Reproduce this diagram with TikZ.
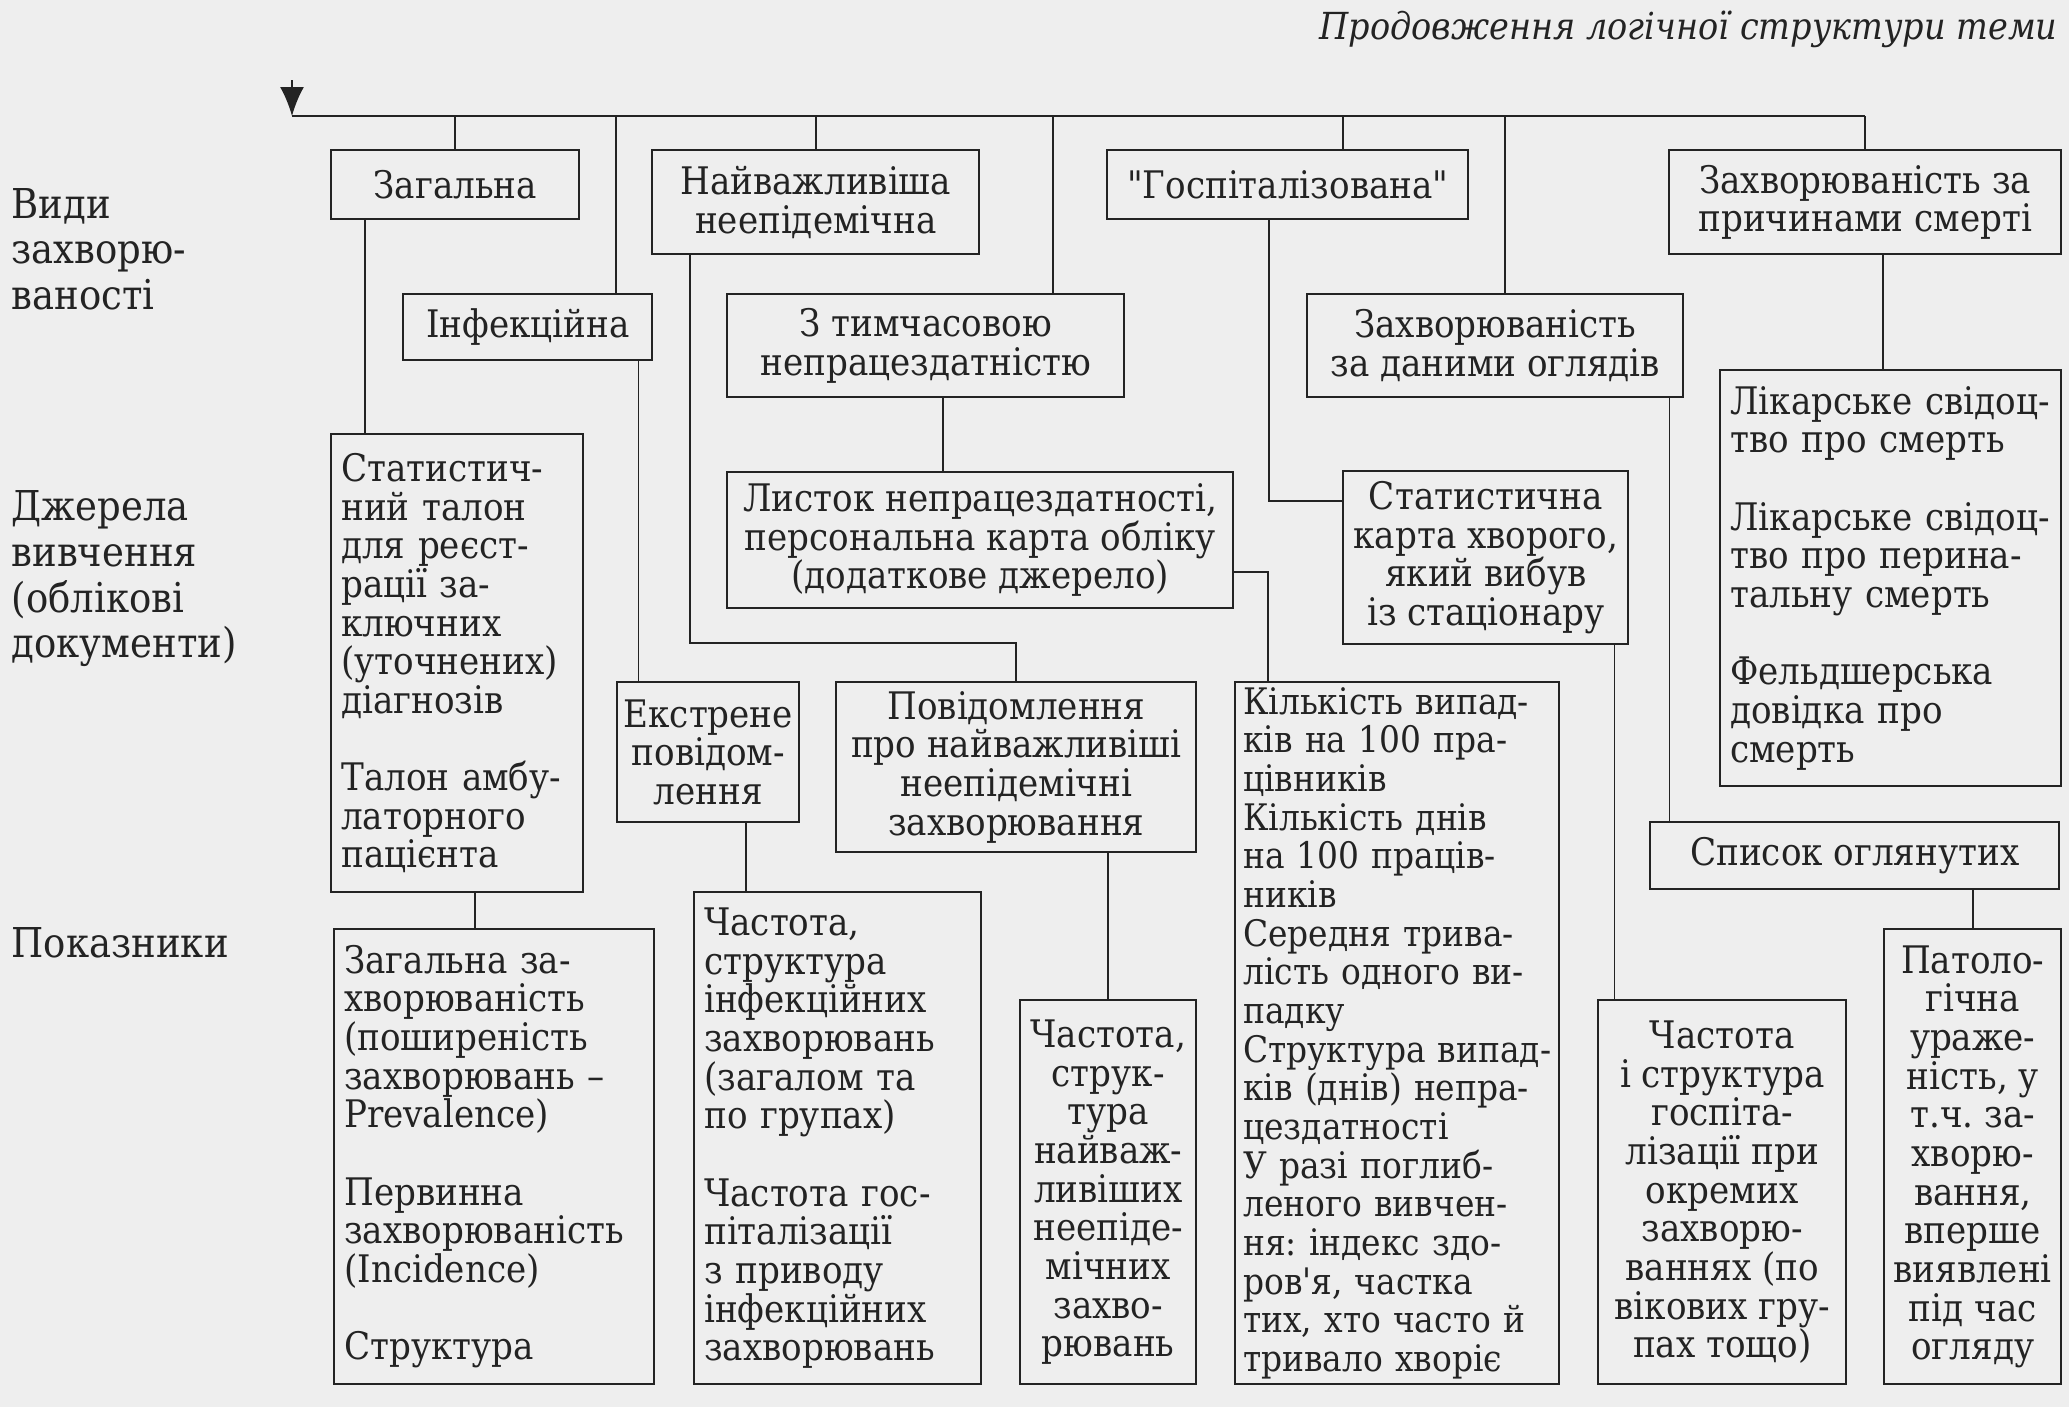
\documentclass[tikz,border=0pt]{standalone}
\usepackage{fontspec}
\setmainfont{DejaVu Serif Condensed}[Ligatures=TeXOff]
\frenchspacing
\exhyphenpenalty=10000
\hfuzz=20pt
\usepackage{tikz}
\usetikzlibrary{arrows.meta,calc}
\definecolor{scangray}{RGB}{238,238,238}
\definecolor{inkgray}{RGB}{35,35,35}

\tikzset{
  box/.style={draw=inkgray, line width=0.7pt, anchor=north west, inner sep=0pt,
    align=center, text=inkgray, font=\fontsize{10.8}{11}\selectfont},
  lbox/.style={box, align=left, inner xsep=1.0mm},
  side/.style={anchor=west, inner sep=0pt, align=left, text=inkgray,
    font=\fontsize{11.7}{13}\selectfont},
  link/.style={draw=inkgray, line width=0.5pt},
}

\begin{document}
\begin{tikzpicture}[x=1mm, y=-1mm]
  \fill[scangray] (0,0) rectangle (206.9,140.66);
  \useasboundingbox (0,0) rectangle (206.9,140.66);

  \node[anchor=east, inner sep=0pt, text=inkgray, font=\fontsize{10.6}{12}\selectfont\itshape]
    (title) at (205.8,2.9) {Продовження логічної структури теми};

  \node[side] (kinds) at (1.1,24.9) {Види\\захворю-\\ваності};
  \node[side] (sources) at (1.1,57.9) {Джерела\\вивчення\\(облікові\\документи)};
  \node[side] (indic) at (1.1,94.3) {Показники};

  % види захворюваності
  \node[box, minimum width=24.8mm, minimum height=6.9mm] (zag) at (33.0,14.9) {Загальна};
  \node[box, minimum width=24.9mm, minimum height=6.6mm] (inf) at (40.2,29.3) {Інфекційна};
  \node[box, minimum width=32.7mm, minimum height=10.4mm] (nay) at (65.1,14.9) {Найважливіша\\неепідемічна};
  \node[box, minimum width=39.7mm, minimum height=10.3mm] (tym) at (72.6,29.3) {З тимчасовою\\непрацездатністю};
  \node[box, minimum width=36.1mm, minimum height=6.9mm] (hosp) at (110.6,14.9) {"Госпіталізована"};
  \node[box, minimum width=37.6mm, minimum height=10.3mm] (exam) at (130.6,29.3) {Захворюваність\\за даними оглядів};
  \node[box, minimum width=39.2mm, minimum height=10.4mm] (death) at (166.8,14.9) {Захворюваність за\\причинами смерті};

  % джерела
  \node[lbox, text width=23.2mm, minimum height=45.8mm] (talon) at (33.0,43.3)
    {Статистич-\\ний талон\\для реєст-\\рації за-\\ключних\\(уточнених)\\діагнозів\\[\baselineskip]Талон амбу-\\латорного\\пацієнта};
  \node[box, minimum width=50.6mm, minimum height=13.6mm] (list) at (72.6,47.1)
    {Листок непрацездатності,\\персональна карта обліку\\(додаткове джерело)};
  \node[box, minimum width=28.5mm, minimum height=17.3mm] (card) at (134.2,47.0)
    {Статистична\\карта хворого,\\який вибув\\із стаціонару};
  \node[lbox, text width=32.1mm, minimum height=41.6mm] (cert) at (171.9,36.9)
    {Лікарське свідоц-\\тво про смерть\\[\baselineskip]Лікарське свідоц-\\тво про перина-\\тальну смерть\\[\baselineskip]Фельдшерська\\довідка про\\смерть};
  \node[box, minimum width=18.2mm, minimum height=14.0mm] (urg) at (61.6,68.1)
    {Екстрене\\повідом-\\лення};
  \node[box, minimum width=36.0mm, minimum height=17.0mm] (msg) at (83.5,68.1)
    {Повідомлення\\про найважливіші\\неепідемічні\\захворювання};
  \node[box, minimum width=40.9mm, minimum height=6.7mm] (exlist) at (164.9,82.1) {Список оглянутих};

  % показники
  \node[lbox, inner xsep=0.8mm, text width=30.8mm, minimum height=70.2mm,
    font=\fontsize{10.4}{11}\selectfont] (count) at (123.4,68.1)
    {Кількість~випад-\\ків~на~100~пра-\\цівників\\Кількість днів\\на 100 праців-\\ників\\Середня трива-\\лість~одного~ви-\\падку\\Структура~випад-\\ків~(днів)~непра-\\цездатності\\У разі поглиб-\\леного вивчен-\\ня:~індекс~здо-\\ров'я, частка\\тих,~хто~часто~й\\тривало~хворіє};
  \node[lbox, text width=26.7mm, minimum height=49.2mm] (freqi) at (69.3,89.1)
    {Частота,\\структура\\інфекційних\\захворювань\\(загалом та\\по групах)\\[\baselineskip]Частота гос-\\піталізації\\з приводу\\інфекційних\\захворювань};
  \node[lbox, text width=30.0mm, minimum height=45.5mm] (prev) at (33.3,92.8)
    {Загальна за-\\хворюваність\\(поширеність\\захворювань –\\Prevalence)\\[\baselineskip]Первинна\\захворюваність\\(Incidence)\\[\baselineskip]Структура};
  \node[box, minimum width=17.6mm, minimum height=38.4mm] (freqn) at (101.9,99.9)
    {Частота,\\струк-\\тура\\найваж-\\ливіших\\неепіде-\\мічних\\захво-\\рювань};
  \node[box, minimum width=24.8mm, minimum height=38.4mm] (freqh) at (159.7,99.9)
    {Частота\\і структура\\госпіта-\\лізації при\\окремих\\захворю-\\ваннях (по\\вікових гру-\\пах тощо)};
  \node[box, minimum width=17.7mm, minimum height=45.5mm] (patho) at (188.3,92.8)
    {Патоло-\\гічна\\ураже-\\ність, у\\т.ч. за-\\хворю-\\вання,\\вперше\\виявлені\\під час\\огляду};

  % верхня шина
  \coordinate (arrtop) at (29.2,8.0);
  \coordinate (busL) at (29.2,11.6);
  \coordinate (busR) at (death.north |- busL);
  \draw[link, -{Latex[length=2.9mm,width=2.4mm]}] (arrtop) -- (busL);
  \draw[link] (busL) -- (busR);
  \draw[link] (zag.north |- busL) -- (zag.north);
  \draw[link] ([xshift=8.8mm]inf.north |- busL) -- ([xshift=8.8mm]inf.north);
  \draw[link] (nay.north |- busL) -- (nay.north);
  \draw[link] ([xshift=12.7mm]tym.north |- busL) -- ([xshift=12.7mm]tym.north);
  \draw[link] ([xshift=5.5mm]hosp.north |- busL) -- ([xshift=5.5mm]hosp.north);
  \draw[link] ([xshift=1mm]exam.north |- busL) -- ([xshift=1mm]exam.north);
  \draw[link] (busR) -- (death.north);

  % зв'язки
  \draw[link] ([xshift=3.5mm]zag.south west) -- ([xshift=3.5mm]zag.south west |- talon.north);
  \draw[link] ([xshift=-1.5mm]inf.south east) -- ([xshift=-1.5mm]inf.south east |- urg.north);
  \draw[link] ([xshift=3.9mm]nay.south west) |- ([yshift=3.8mm]msg.north) -- (msg.north);
  \draw[link] ([xshift=21.7mm]tym.south west) -- ([xshift=21.7mm]tym.south west |- list.north);
  \draw[link] ([xshift=16.3mm]hosp.south west) |- ([yshift=-3.1mm]card.north west);
  \draw[link] ([yshift=-3.2mm]list.east) -| ([xshift=3.4mm]count.north west);
  \draw[link] ([xshift=-1.5mm]exam.south east) -- ([xshift=-1.5mm]exam.south east |- exlist.north);
  \draw[link] ([xshift=1.8mm]death.south) -- ([xshift=1.8mm]death.south |- cert.north);
  \draw[link] ([xshift=14.5mm]talon.south west) -- ([xshift=14.5mm]talon.south west |- prev.north);
  \draw[link] ([xshift=13mm]urg.south west) -- ([xshift=13mm]urg.south west |- freqi.north);
  \draw[link] (freqn.north |- msg.south) -- (freqn.north);
  \draw[link] ([xshift=-1.5mm]card.south east) -- ([xshift=-1.5mm]card.south east |- freqh.north);
  \draw[link] (patho.north |- exlist.south) -- (patho.north);
\end{tikzpicture}
\end{document}
